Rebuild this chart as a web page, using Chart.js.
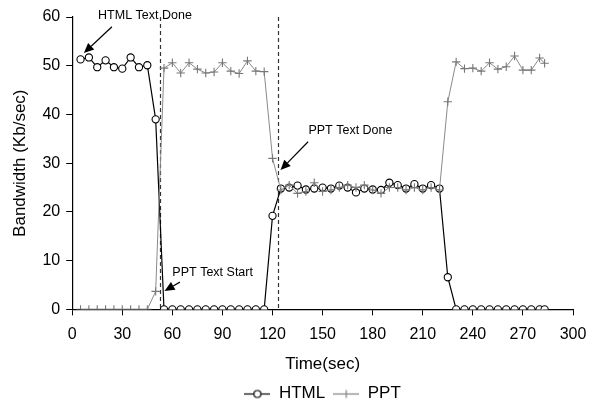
<!DOCTYPE html>
<html lang="en">
<head>
  <meta charset="UTF-8" />
  <title>Bandwidth over time: HTML vs PPT</title>
  <script src="https://cdn.jsdelivr.net/npm/chart.js"></script>
  <style>
    html, body { margin: 0; padding: 0; background: #fff; }
    #wrap { width: 592px; height: 412px; }
  </style>
</head>
<body>
  <div id="wrap"><canvas id="bwChart"></canvas></div>

  <script>
    // time stamps (sec) shared by both series
    const timeSec = [
      5, 10, 15, 20, 25, 30, 35, 40, 45, 50,
      55, 60, 65, 70, 75, 80, 85, 90, 95, 100,
      105, 110, 115, 120, 125, 130, 135, 140, 145, 150,
      155, 160, 165, 170, 175, 180, 185, 190, 195, 200,
      205, 210, 215, 220, 225, 230, 235, 240, 245, 250,
      255, 260, 265, 270, 275, 280, 283
    ];

    // bandwidth in Kb/sec
    const htmlBw = [
      51.3, 51.7, 49.7, 51.1, 49.7, 49.4, 51.7, 49.7, 50.1, 39.0,
      0, 0, 0, 0, 0, 0, 0, 0, 0, 0,
      0, 0, 0, 19.2, 24.8, 25.0, 25.4, 24.6, 24.8, 25.0,
      24.8, 25.4, 25.0, 24.0, 24.8, 24.6, 24.5, 26.0, 25.5, 24.8,
      25.7, 24.8, 25.5, 24.8, 6.6, 0, 0, 0, 0, 0,
      0, 0, 0, 0, 0, 0, 0
    ];
    const pptBw = [
      0, 0, 0, 0, 0, 0, 0, 0, 0, 3.7,
      49.5, 50.6, 48.5, 50.6, 49.3, 48.5, 48.7, 50.6, 48.9, 48.4,
      51.0, 48.9, 48.8, 31.0, 24.5, 25.5, 23.8, 24.2, 26.0, 24.2,
      24.5, 25.0, 25.5, 25.0, 25.5, 24.5, 23.8, 25.0, 25.0, 24.5,
      25.0, 24.5, 25.0, 24.5, 42.6, 50.8, 49.4, 49.5, 48.9, 50.6,
      49.3, 49.8, 52.0, 49.1, 49.1, 51.6, 50.5
    ];

    const xTicks = [0, 300, 30];   // min, max, step
    const yTicks = [0, 60, 10];

    // event markers (sec) and callouts, in data units
    const eventLines = [52.5, 123.5];
    const callouts = [
      { text: 'HTML Text Done', tx: 15.5, ty: 60.4, from: [23.8, 58.0], to: [7.0, 52.6] },
      { text: 'PPT Text Start', tx: 60.0, ty: 7.5, from: [64.5, 5.6], to: [55.3, 3.8] },
      { text: 'PPT Text Done', tx: 141.5, ty: 36.6, from: [141.3, 34.4], to: [124.8, 28.6] }
    ];

    const toPoints = (ys) => ys.map((y, i) => ({ x: timeSec[i], y: y }));

    // little legend glyphs: line with marker
    function legendGlyph(color, kind) {
      const c = document.createElement('canvas');
      c.width = 26; c.height = 12;
      const g = c.getContext('2d');
      g.strokeStyle = color;
      g.lineWidth = 1.2;
      g.beginPath(); g.moveTo(0, 6.5); g.lineTo(26, 6.5); g.stroke();
      if (kind === 'circle') {
        g.fillStyle = '#fff';
        g.beginPath(); g.arc(13, 6.5, 3.5, 0, Math.PI * 2); g.fill(); g.stroke();
      } else {
        g.beginPath();
        g.moveTo(9, 6.5); g.lineTo(17, 6.5);
        g.moveTo(13, 2.5); g.lineTo(13, 10.5);
        g.stroke();
      }
      return c;
    }
    const htmlGlyph = legendGlyph('#000', 'circle');
    const pptGlyph = legendGlyph('#808080', 'cross');

    const calloutPlugin = {
      id: 'callouts',
      afterLayout(chart) {
        // legend sits centred under the plot area, not the whole canvas
        const lg = chart.legend;
        if (lg) {
          const shift = (chart.chartArea.left + chart.chartArea.right) / 2 - (lg.left + lg.right) / 2;
          lg.left += shift;
          lg.right += shift;
        }
      },
      beforeDatasetsDraw(chart) {
        const { ctx, scales: { x, y } } = chart;
        ctx.save();
        ctx.strokeStyle = '#333';
        ctx.lineWidth = 1.2;
        ctx.setLineDash([4, 3]);
        eventLines.forEach(t => {
          const px = Math.round(x.getPixelForValue(t)) + 0.5;
          ctx.beginPath();
          ctx.moveTo(px, y.getPixelForValue(yTicks[1]));
          ctx.lineTo(px, y.getPixelForValue(0));
          ctx.stroke();
        });
        ctx.restore();
      },
      afterDatasetsDraw(chart) {
        const { ctx, scales: { x, y } } = chart;
        ctx.save();
        ctx.font = '12.5px "Liberation Sans", Arial, sans-serif';
        ctx.textBaseline = 'middle';
        ctx.fillStyle = '#000';
        ctx.strokeStyle = '#000';
        ctx.lineWidth = 1.2;
        callouts.forEach(c => {
          ctx.fillText(c.text, x.getPixelForValue(c.tx), y.getPixelForValue(c.ty));
          const x0 = x.getPixelForValue(c.from[0]), y0 = y.getPixelForValue(c.from[1]);
          const x1 = x.getPixelForValue(c.to[0]), y1 = y.getPixelForValue(c.to[1]);
          const ang = Math.atan2(y1 - y0, x1 - x0);
          const hl = 10, hw = 4.5;
          const bx = x1 - hl * Math.cos(ang), by = y1 - hl * Math.sin(ang);
          ctx.beginPath(); ctx.moveTo(x0, y0); ctx.lineTo(bx, by); ctx.stroke();
          ctx.beginPath();
          ctx.moveTo(x1, y1);
          ctx.lineTo(bx + hw * Math.sin(ang), by - hw * Math.cos(ang));
          ctx.lineTo(bx - hw * Math.sin(ang), by + hw * Math.cos(ang));
          ctx.closePath(); ctx.fill();
        });
        ctx.restore();
      }
    };

    Chart.defaults.font.family = '"Liberation Sans", Arial, sans-serif';
    Chart.defaults.color = '#000';

    new Chart(document.getElementById('bwChart'), {
      type: 'line',
      data: {
        datasets: [
          {
            label: 'HTML',
            data: toPoints(htmlBw),
            borderColor: '#000',
            borderWidth: 1.2,
            pointStyle: 'circle',
            pointRadius: 3.6,
            pointBorderWidth: 1.1,
            pointBackgroundColor: '#fff',
            pointBorderColor: '#000',
            tension: 0,
            order: 2
          },
          {
            label: 'PPT',
            data: toPoints(pptBw),
            borderColor: '#8a8a8a',
            borderWidth: 1,
            pointStyle: 'cross',
            pointRadius: 4.2,
            pointBorderWidth: 1.1,
            pointBorderColor: '#777',
            tension: 0,
            order: 1
          }
        ]
      },
      options: {
        responsive: true,
        maintainAspectRatio: false,
        animation: false,
        layout: { padding: { left: 10, right: 0, top: 17, bottom: 0 } },
        plugins: {
          tooltip: { enabled: false },
          legend: {
            position: 'bottom',
            labels: {
              usePointStyle: true,
              pointStyleWidth: 26,
              padding: 8,
              font: { size: 17 },
              generateLabels: () => [
                { text: 'HTML', pointStyle: htmlGlyph, fillStyle: '#fff', strokeStyle: '#000', lineWidth: 0, datasetIndex: 0, hidden: false },
                { text: 'PPT', pointStyle: pptGlyph, fillStyle: '#fff', strokeStyle: '#888', lineWidth: 0, datasetIndex: 1, hidden: false }
              ]
            }
          }
        },
        scales: {
          x: {
            type: 'linear',
            min: xTicks[0],
            max: xTicks[1],
            ticks: { stepSize: xTicks[2], font: { size: 16 }, padding: 10, maxRotation: 0 },
            grid: { drawOnChartArea: false, color: '#000', tickLength: 6 },
            border: { color: '#000', width: 1.2 },
            title: { display: true, text: 'Time(sec)', font: { size: 17 }, padding: { top: 0, bottom: 2 } },
            afterFit(scale) { scale.paddingRight = 19; }
          },
          y: {
            min: yTicks[0],
            max: yTicks[1],
            ticks: { stepSize: yTicks[2], font: { size: 16 }, padding: 6 },
            grid: { drawOnChartArea: false, color: '#000', tickLength: 6 },
            border: { color: '#000', width: 1.2 },
            title: { display: true, text: 'Bandwidth (Kb/sec)', font: { size: 17 }, padding: { top: 0, bottom: 6 } }
          }
        }
      },
      plugins: [calloutPlugin]
    });
  </script>
</body>
</html>
